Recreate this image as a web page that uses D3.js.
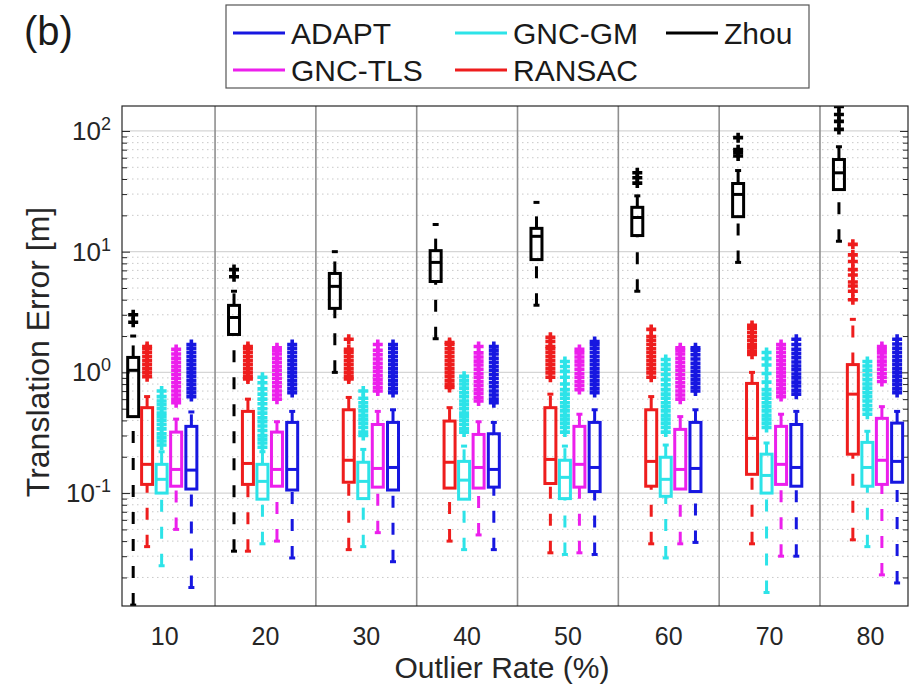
<!DOCTYPE html>
<html>
<head>
<meta charset="utf-8">
<script src="https://cdn.jsdelivr.net/npm/d3@7"></script>
<style>
  html, body { margin: 0; padding: 0; background: #ffffff; }
  svg { display: block; font-family: "Liberation Sans", Arial, Helvetica, sans-serif; }
</style>
</head>
<body>
<svg id="chart" width="916" height="693"></svg>
<script>
// Outlier rates (x groups) and the five methods compared at each rate
const rates = [10, 20, 30, 40, 50, 60, 70, 80];
const methodNames = ["Zhou", "RANSAC", "GNC-GM", "GNC-TLS", "ADAPT"];
const methodColors = ["#000000", "#ee1d1d", "#2de3e8", "#ec1fec", "#1717e0"];
const legendOrder = ["ADAPT", "GNC-GM", "Zhou", "GNC-TLS", "RANSAC"];
const yTickExponents = [-1, 0, 1, 2];

// Box statistics per rate: [lower whisker, Q1, median, Q3, upper whisker]
const zhouStats = [
  [0.0118, 0.43, 1.04, 1.33, 2.0],
  [0.033, 2.06, 2.85, 3.59, 4.7],
  [1.0, 3.39, 5.16, 6.6, 10.0],
  [1.9, 5.66, 8.15, 10.2, 16.8],
  [3.6, 8.6, 13.4, 15.6, 25.6],
  [4.7, 13.6, 19.2, 23.3, 29],
  [8.15, 19.5, 29.8, 36.7, 47],
  [12.2, 32.7, 45, 58, 74]
];
const ransacStats = [
  [0.036, 0.118, 0.173, 0.51, 0.63],
  [0.033, 0.118, 0.176, 0.475, 0.6],
  [0.034, 0.123, 0.187, 0.49, 0.62],
  [0.04, 0.11, 0.18, 0.395, 0.51],
  [0.032, 0.12, 0.19, 0.51, 0.66],
  [0.038, 0.114, 0.183, 0.49, 0.63],
  [0.038, 0.143, 0.284, 0.81, 1.0],
  [0.041, 0.21, 0.66, 1.16, 2.75]
];
const gncGmStats = [
  [0.025, 0.1, 0.13, 0.173, 0.22],
  [0.038, 0.089, 0.125, 0.173, 0.22],
  [0.036, 0.09, 0.125, 0.18, 0.23],
  [0.034, 0.089, 0.128, 0.183, 0.245],
  [0.031, 0.09, 0.135, 0.187, 0.245],
  [0.029, 0.094, 0.13, 0.198, 0.25],
  [0.015, 0.1, 0.14, 0.21, 0.26],
  [0.036, 0.114, 0.163, 0.263, 0.325]
];
const gncTlsStats = [
  [0.05, 0.114, 0.157, 0.32, 0.41],
  [0.04, 0.114, 0.157, 0.32, 0.39],
  [0.047, 0.112, 0.16, 0.37, 0.475],
  [0.045, 0.11, 0.163, 0.306, 0.39],
  [0.032, 0.112, 0.173, 0.357, 0.45],
  [0.038, 0.108, 0.157, 0.337, 0.43],
  [0.03, 0.118, 0.173, 0.357, 0.45],
  [0.021, 0.118, 0.187, 0.416, 0.52]
];
const adaptStats = [
  [0.0165, 0.108, 0.155, 0.357, 0.47],
  [0.029, 0.106, 0.157, 0.385, 0.475],
  [0.027, 0.106, 0.163, 0.385, 0.49],
  [0.034, 0.112, 0.157, 0.31, 0.385],
  [0.031, 0.103, 0.163, 0.385, 0.49],
  [0.039, 0.103, 0.16, 0.385, 0.49],
  [0.03, 0.114, 0.163, 0.37, 0.475],
  [0.018, 0.123, 0.183, 0.38, 0.475]
];

// Outliers per rate, drawn as '+' markers
const zhouOutliers = [
  [2.6, 3.0],
  [6.2, 7.1],
  [],
  [],
  [],
  [37, 41, 45],
  [62, 66, 70, 88],
  [103, 120, 137, 160]
];
const ransacOutliers = [
  [0.92, 0.99, 1.07, 1.16, 1.25, 1.35, 1.46, 1.57, 1.64],
  [0.88, 0.92, 0.99, 1.07, 1.16, 1.25, 1.35, 1.46, 1.57, 1.64],
  [0.88, 0.92, 0.99, 1.07, 1.16, 1.25, 1.35, 1.46, 1.55, 1.88],
  [0.75, 0.79, 0.85, 0.92, 0.99, 1.07, 1.16, 1.25, 1.35, 1.46, 1.57, 1.70, 1.77],
  [0.91, 0.99, 1.07, 1.16, 1.25, 1.35, 1.46, 1.57, 1.64, 1.8, 1.95],
  [0.91, 0.99, 1.07, 1.16, 1.25, 1.35, 1.46, 1.57, 1.70, 1.84, 1.98, 2.27],
  [1.41, 1.5, 1.6, 1.7, 1.84, 1.98, 2.14, 2.31, 2.45],
  [4.0, 4.7, 5.2, 5.6, 6.4, 7.1, 8.3, 9.4, 11.5]
];
const gncGmOutliers = [
  [0.25, 0.27, 0.29, 0.31, 0.34, 0.37, 0.40, 0.43, 0.46, 0.50, 0.54, 0.58, 0.63, 0.70],
  [0.24, 0.26, 0.28, 0.30, 0.33, 0.36, 0.39, 0.42, 0.46, 0.50, 0.55, 0.60, 0.66, 0.73, 0.82, 0.91],
  [0.30, 0.32, 0.35, 0.38, 0.41, 0.44, 0.48, 0.52, 0.56, 0.61, 0.70],
  [0.32, 0.34, 0.37, 0.40, 0.43, 0.46, 0.50, 0.54, 0.58, 0.63, 0.68, 0.74, 0.80, 0.86, 0.93],
  [0.32, 0.35, 0.38, 0.41, 0.44, 0.48, 0.52, 0.56, 0.61, 0.66, 0.72, 0.80, 0.91, 1.02, 1.12, 1.23],
  [0.32, 0.35, 0.38, 0.41, 0.44, 0.48, 0.52, 0.56, 0.61, 0.66, 0.72, 0.79, 0.87, 0.96, 1.06, 1.16, 1.28],
  [0.35, 0.38, 0.41, 0.44, 0.48, 0.52, 0.56, 0.61, 0.66, 0.72, 0.83, 0.98, 1.15, 1.30, 1.46],
  [0.45, 0.49, 0.53, 0.58, 0.63, 0.68, 0.74, 0.80, 0.87, 0.95, 1.04, 1.13, 1.23]
];
const gncTlsOutliers = [
  [0.56, 0.60, 0.65, 0.70, 0.76, 0.82, 0.89, 0.96, 1.04, 1.12, 1.21, 1.31, 1.42, 1.55],
  [0.60, 0.65, 0.70, 0.76, 0.82, 0.89, 0.96, 1.04, 1.12, 1.21, 1.31, 1.42, 1.52, 1.60],
  [0.70, 0.75, 0.81, 0.87, 0.94, 1.02, 1.10, 1.19, 1.29, 1.40, 1.52, 1.70],
  [0.58, 0.62, 0.67, 0.72, 0.78, 0.84, 0.91, 0.98, 1.06, 1.15, 1.24, 1.34, 1.45, 1.64],
  [0.72, 0.78, 0.84, 0.91, 0.98, 1.06, 1.15, 1.24, 1.34, 1.45, 1.55],
  [0.60, 0.65, 0.70, 0.76, 0.82, 0.89, 0.96, 1.04, 1.12, 1.21, 1.31, 1.42, 1.52, 1.60],
  [0.63, 0.68, 0.73, 0.79, 0.85, 0.92, 0.99, 1.07, 1.16, 1.25, 1.35, 1.46, 1.58, 1.70],
  [0.84, 0.91, 0.98, 1.06, 1.15, 1.24, 1.34, 1.45, 1.55, 1.64]
];
const adaptOutliers = [
  [0.63, 0.68, 0.73, 0.79, 0.85, 0.92, 0.99, 1.07, 1.16, 1.25, 1.35, 1.46, 1.58, 1.70],
  [0.68, 0.73, 0.79, 0.85, 0.92, 0.99, 1.07, 1.16, 1.25, 1.35, 1.46, 1.58, 1.70],
  [0.68, 0.73, 0.79, 0.85, 0.92, 0.99, 1.07, 1.16, 1.25, 1.35, 1.46, 1.58, 1.70],
  [0.56, 0.60, 0.65, 0.70, 0.76, 0.82, 0.89, 0.96, 1.04, 1.12, 1.21, 1.31, 1.42, 1.53, 1.64],
  [0.68, 0.73, 0.79, 0.85, 0.92, 0.99, 1.07, 1.16, 1.25, 1.35, 1.46, 1.58, 1.70, 1.80],
  [0.70, 0.75, 0.81, 0.87, 0.94, 1.02, 1.10, 1.19, 1.29, 1.40, 1.52, 1.60],
  [0.66, 0.71, 0.77, 0.83, 0.90, 0.97, 1.05, 1.13, 1.22, 1.32, 1.43, 1.55, 1.70, 1.88],
  [0.68, 0.73, 0.79, 0.85, 0.92, 0.99, 1.07, 1.16, 1.25, 1.35, 1.46, 1.58, 1.72, 1.88]
];

const allStats = [zhouStats, ransacStats, gncGmStats, gncTlsStats, adaptStats];
const allOutliers = [zhouOutliers, ransacOutliers, gncGmOutliers, gncTlsOutliers, adaptOutliers];

// ---- layout ----
const plot = { left: 122, right: 908, top: 106, bottom: 606 };
const boxOffsets = [-3.12, -1.74, -0.3, 1.14, 2.65];   // x-units within a group
const boxHalf = 5.5;
const capHalf = 3;
const lineW = 3;

const svg = d3.select("#chart");
svg.append("rect").attr("width", 916).attr("height", 693).attr("fill", "#ffffff");

const x = d3.scaleLinear().domain([5.77, 83.73]).range([plot.left, plot.right]);
const y = d3.scaleLog().domain([0.0116, 161]).range([plot.bottom, plot.top]);

svg.append("clipPath").attr("id", "plotClip")
  .append("rect")
  .attr("x", plot.left).attr("y", plot.top)
  .attr("width", plot.right - plot.left).attr("height", plot.bottom - plot.top);

// ---- grid ----
const grid = svg.append("g");
const majorVals = yTickExponents.map(e => Math.pow(10, e));
const minorVals = [];
for (let e = -2; e <= 2; e++) {
  for (let m = 2; m <= 9; m++) {
    const v = m * Math.pow(10, e);
    if (v > y.domain()[0] && v < y.domain()[1]) minorVals.push(v);
  }
}
grid.selectAll("line.minor").data(minorVals).join("line")
  .attr("x1", plot.left).attr("x2", plot.right)
  .attr("y1", d => y(d)).attr("y2", d => y(d))
  .attr("stroke", "#c8c8c8").attr("stroke-width", 1)
  .attr("stroke-dasharray", "1.5,3.5");
grid.selectAll("line.major").data(majorVals).join("line")
  .attr("x1", plot.left).attr("x2", plot.right)
  .attr("y1", d => y(d)).attr("y2", d => y(d))
  .attr("stroke", "#d6d6d6").attr("stroke-width", 1.2);

// group separators between outlier rates
const separators = rates.slice(0, -1).map(r => r + 5);
grid.selectAll("line.sep").data(separators).join("line")
  .attr("x1", d => x(d)).attr("x2", d => x(d))
  .attr("y1", plot.top).attr("y2", plot.bottom)
  .attr("stroke", "#8f8f8f").attr("stroke-width", 1.6);

// ---- axes ----
const axisColor = "#262626";
const yAxisLeft = d3.axisLeft(y).tickValues(majorVals).tickSize(-8).tickFormat("");
const yAxisLeftMinor = d3.axisLeft(y).tickValues(minorVals).tickSize(-5).tickFormat("");
const yAxisRight = d3.axisRight(y).tickValues(majorVals).tickSize(-8).tickFormat("");
const yAxisRightMinor = d3.axisRight(y).tickValues(minorVals).tickSize(-5).tickFormat("");
[[yAxisLeft, plot.left], [yAxisLeftMinor, plot.left], [yAxisRight, plot.right], [yAxisRightMinor, plot.right]]
  .forEach(([ax, px]) => {
    const g = svg.append("g").attr("transform", `translate(${px},0)`).call(ax);
    g.select(".domain").remove();
    g.selectAll(".tick line").attr("stroke", axisColor).attr("stroke-width", 1);
  });

// y tick labels as powers of ten
const yLabels = svg.append("g");
yTickExponents.forEach(e => {
  const t = yLabels.append("text")
    .attr("x", 111).attr("y", y(Math.pow(10, e)) + 9)
    .attr("text-anchor", "end")
    .attr("fill", "#262626")
    .attr("font-size", 26);
  t.append("tspan").text("10");
  t.append("tspan").attr("dy", -10).attr("font-size", 18).text(String(e));
});

// x tick labels
svg.append("g").selectAll("text").data(rates).join("text")
  .attr("x", d => x(d)).attr("y", 645)
  .attr("text-anchor", "middle")
  .attr("fill", "#262626")
  .attr("font-size", 25)
  .text(d => d);

// axis titles
svg.append("text")
  .attr("x", 502).attr("y", 678)
  .attr("text-anchor", "middle")
  .attr("fill", "#262626")
  .attr("font-size", 30)
  .text("Outlier Rate (%)");
svg.append("text")
  .attr("transform", "translate(49,352) rotate(-90)")
  .attr("text-anchor", "middle")
  .attr("fill", "#262626")
  .attr("font-size", 32)
  .text("Translation Error [m]");

// panel tag
svg.append("text")
  .attr("x", 24).attr("y", 45)
  .attr("fill", "#1a1a1a")
  .attr("font-size", 40)
  .text("(b)");

// ---- box plots ----
const marks = svg.append("g").attr("clip-path", "url(#plotClip)");
const plusPath = "M-5,0H5M0,-5V5";

rates.forEach((rate, gi) => {
  methodNames.forEach((name, mi) => {
    const [lo, q1, med, q3, hi] = allStats[mi][gi];
    const cx = x(rate + boxOffsets[mi]);
    const color = methodColors[mi];
    const g = marks.append("g").attr("stroke", color).attr("fill", "none")
      .attr("stroke-width", lineW);

    // whiskers: upper drawn from the box outward, lower drawn from its end to the box
    g.append("line").attr("x1", cx).attr("x2", cx)
      .attr("y1", y(q3)).attr("y2", y(hi))
      .attr("stroke-dasharray", "12,15");
    g.append("line").attr("x1", cx).attr("x2", cx)
      .attr("y1", y(lo)).attr("y2", y(q1))
      .attr("stroke-dasharray", "12,15");
    // whisker caps
    [lo, hi].forEach(v => {
      g.append("line").attr("x1", cx - capHalf).attr("x2", cx + capHalf)
        .attr("y1", y(v)).attr("y2", y(v));
    });
    // box and median
    g.append("rect")
      .attr("x", cx - boxHalf).attr("width", boxHalf * 2)
      .attr("y", y(q3)).attr("height", y(q1) - y(q3));
    g.append("line").attr("x1", cx - boxHalf).attr("x2", cx + boxHalf)
      .attr("y1", y(med)).attr("y2", y(med));
    // outliers
    g.selectAll("path.out").data(allOutliers[mi][gi]).join("path")
      .attr("transform", d => `translate(${cx},${y(d)})`)
      .attr("d", plusPath)
      .attr("stroke-width", 3.6);
  });
});

// axes frame on top
svg.append("rect")
  .attr("x", plot.left).attr("y", plot.top)
  .attr("width", plot.right - plot.left).attr("height", plot.bottom - plot.top)
  .attr("fill", "none").attr("stroke", axisColor).attr("stroke-width", 1.2);

// ---- legend ----
const legend = svg.append("g");
legend.append("rect")
  .attr("x", 226).attr("y", 5).attr("width", 583).attr("height", 83)
  .attr("fill", "#ffffff").attr("stroke", "#555555").attr("stroke-width", 1.2);
const legendPos = [
  { x: 233, y: 33 }, { x: 455, y: 33 }, { x: 666, y: 33 },
  { x: 233, y: 70 }, { x: 455, y: 70 }
];
legendOrder.forEach((name, i) => {
  const p = legendPos[i];
  const color = methodColors[methodNames.indexOf(name)];
  legend.append("line")
    .attr("x1", p.x).attr("x2", p.x + 52)
    .attr("y1", p.y).attr("y2", p.y)
    .attr("stroke", color).attr("stroke-width", 3.2);
  legend.append("text")
    .attr("x", p.x + 58).attr("y", p.y + 11)
    .attr("fill", "#1a1a1a")
    .attr("font-size", 30)
    .text(name);
});
</script>
</body>
</html>
